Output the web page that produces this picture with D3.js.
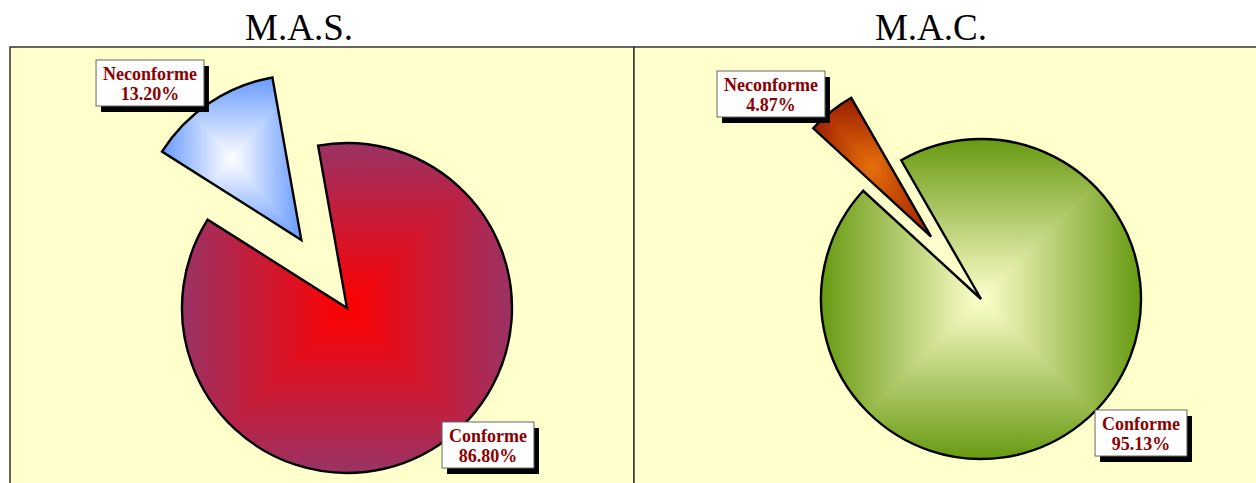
<!DOCTYPE html>
<html>
<head>
<meta charset="utf-8">
<script src="https://cdn.jsdelivr.net/npm/d3@7"></script>
<style>
  body { margin: 0; background: #fff; }
  svg { display: block; }
</style>
</head>
<body>
<div id="chart"></div>
<script>
// data
var titles = ["M.A.S.", "M.A.C."];
var categories = ["Conforme", "Neconforme"];
var masValues = [86.80, 13.20];
var macValues = [95.13, 4.87];
var labelTexts = [["86.80%", "13.20%"], ["95.13%", "4.87%"]];

var width = 1256,
    height = 483;

// layout per panel (positions only)
var panels = [
  { title: titles[0], values: masValues, labels: labelTexts[0],
    x0: 10, x1: 634, cx: 347, cy: 308, r: 165, start: -10.1, explode: 82,
    titleX: 299,
    labelOff: [[141, 138], [-197, -224]],
    colors: [["#993366", "#ff0000"], ["#6699ff", "#ffffff"]] },
  { title: titles[1], values: macValues, labels: labelTexts[1],
    x0: 634, x1: 1262, cx: 981, cy: 299, r: 160, start: -29.9, explode: 80,
    titleX: 931,
    labelOff: [[160, 135], [-210, -204]],
    colors: [["#669910", "#ffffcc"], ["#991a00", "#e8700c"]] }
];

var svg = d3.select("#chart").append("svg")
    .attr("width", width)
    .attr("height", height);

var defs = svg.append("defs");
var gid = 0;

function lin(x1, y1, x2, y2, c0, c1) {
  var id = "g" + (gid++);
  var g = defs.append("linearGradient")
      .attr("id", id)
      .attr("gradientUnits", "userSpaceOnUse")
      .attr("x1", x1).attr("y1", y1).attr("x2", x2).attr("y2", y2);
  g.append("stop").attr("offset", 0).attr("stop-color", c0);
  g.append("stop").attr("offset", 1).attr("stop-color", c1);
  return "url(#" + id + ")";
}

panels.forEach(function(p, pi) {
  // panel background
  svg.append("rect")
      .attr("x", p.x0).attr("y", 47)
      .attr("width", p.x1 - p.x0).attr("height", 460)
      .attr("fill", "#ffffcc")
      .attr("stroke", "#333")
      .attr("stroke-width", 1.5);

  svg.append("text")
      .attr("x", p.titleX).attr("y", 40)
      .attr("text-anchor", "middle")
      .style("font-family", "'Liberation Serif', 'Times New Roman', serif")
      .style("font-size", "37px")
      .text(p.title);

  var pie = d3.pie().sort(null)
      .startAngle(p.start * Math.PI / 180)
      .endAngle(p.start * Math.PI / 180 + 2 * Math.PI);
  var arc = d3.arc().innerRadius(0).outerRadius(p.r);
  var arcs = pie(p.values);

  arcs.forEach(function(d, i) {
    var mid = (d.startAngle + d.endAngle) / 2;
    var off = i === 1 ? p.explode : 0;
    var sx = p.cx + Math.sin(mid) * off,
        sy = p.cy - Math.cos(mid) * off;

    var g = svg.append("g").attr("transform", "translate(" + sx + "," + sy + ")");
    var cid = "clip" + pi + "_" + i;
    defs.append("clipPath").attr("id", cid)
      .append("path").attr("d", arc(d));

    // bounding box of slice, for the "from center" gradient
    var tmp = g.append("path").attr("d", arc(d)).attr("fill", "none");
    var bb = tmp.node().getBBox();
    tmp.remove();
    var x0 = bb.x - 1, y0 = bb.y - 1, x1 = bb.x + bb.width + 1, y1 = bb.y + bb.height + 1;
    var mx = (x0 + x1) / 2, my = (y0 + y1) / 2;
    var ce = p.colors[i][0], cc = p.colors[i][1];

    var fg = g.append("g").attr("clip-path", "url(#" + cid + ")");
    fg.append("rect").attr("x", x0).attr("y", y0)
      .attr("width", x1 - x0).attr("height", y1 - y0)
      .attr("fill", d3.interpolateRgb(ce, cc)(0.5));
    var tris = [
      [[x0, y0], [x1, y0], [mx, my], lin(mx, y0, mx, my, ce, cc)],
      [[x1, y0], [x1, y1], [mx, my], lin(x1, my, mx, my, ce, cc)],
      [[x1, y1], [x0, y1], [mx, my], lin(mx, y1, mx, my, ce, cc)],
      [[x0, y1], [x0, y0], [mx, my], lin(x0, my, mx, my, ce, cc)]
    ];
    tris.forEach(function(t) {
      fg.append("polygon")
        .attr("points", [t[0], t[1], t[2]].map(function(q) { return q.join(","); }).join(" "))
        .attr("fill", t[3])
        .attr("stroke", t[3])
        .attr("stroke-width", 0.6);
    });

    g.append("path")
      .attr("d", arc(d))
      .attr("fill", "none")
      .attr("stroke", "#000")
      .attr("stroke-width", 2.4)
      .attr("stroke-linejoin", "miter");
  });

  // labels
  arcs.forEach(function(d, i) {
    var lx = p.cx + p.labelOff[i][0],
        ly = p.cy + p.labelOff[i][1];
    var lg = svg.append("g").attr("transform", "translate(" + lx + "," + ly + ")");
    var shadow = lg.append("rect").attr("fill", "#000");
    var box = lg.append("rect").attr("fill", "#fff").attr("stroke", "#666").attr("stroke-width", 1);
    var txt = lg.append("text")
        .attr("text-anchor", "middle")
        .attr("transform", "scale(1,1.08)")
        .style("font-family", "'Liberation Serif', 'Times New Roman', serif")
        .style("font-weight", "bold")
        .style("font-size", "18px")
        .attr("fill", "#8b0000");
    txt.append("tspan").attr("x", 0).attr("y", -4).text(categories[i]);
    txt.append("tspan").attr("x", 0).attr("y", 14.5).text(p.labels[i]);
    var tb = txt.node().getBBox();
    var bw = tb.width + 14, bh = 46;
    box.attr("x", -bw / 2).attr("y", -bh / 2 - 1).attr("width", bw).attr("height", bh);
    shadow.attr("x", -bw / 2 + 5).attr("y", -bh / 2 + 5).attr("width", bw).attr("height", bh);
  });
});
</script>
</body>
</html>
